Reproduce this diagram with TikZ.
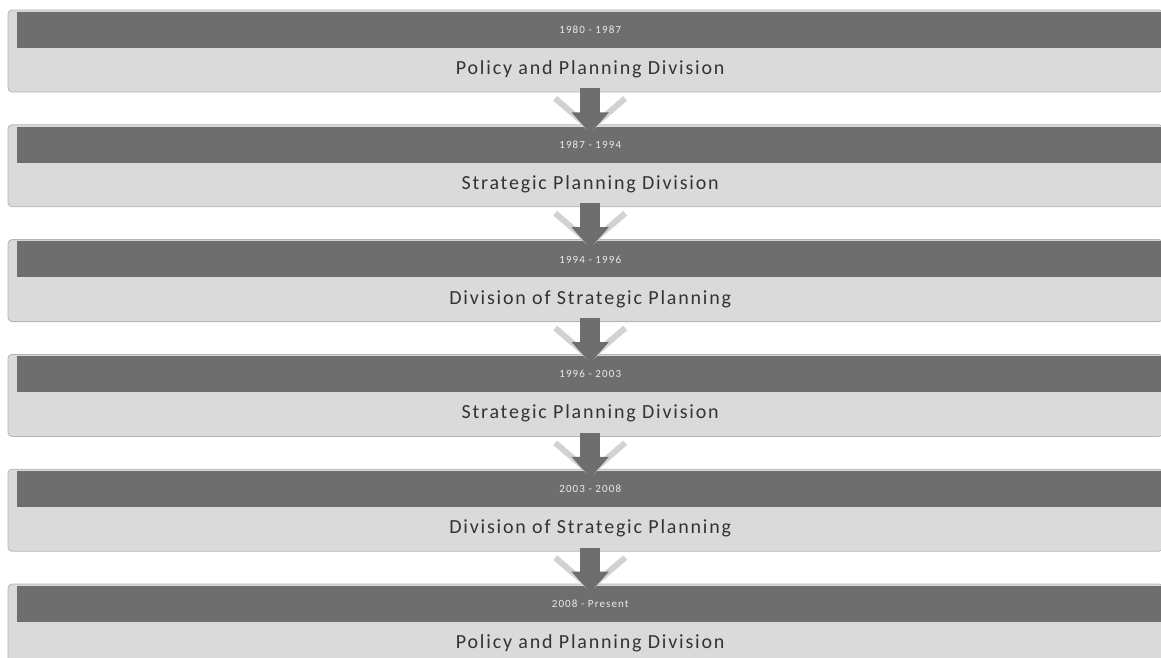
\documentclass[tikz,border=0pt]{standalone}
\usepackage{fontspec}
\setmainfont{Carlito}
\usepackage{xcolor}
\usepackage{tikz}
\usetikzlibrary{positioning, arrows.meta, calc}

\definecolor{barGray}{HTML}{6E6E6E}
\definecolor{panelGray}{HTML}{DADADA}
\definecolor{edgeGray}{HTML}{B4B4B4}
\definecolor{vGray}{HTML}{D2D2D2}
\definecolor{textGray}{HTML}{333333}

\begin{document}
\begin{tikzpicture}[
        x=1pt, y=-1pt,
        % Light background panel of each period
        panel/.style={
            draw=edgeGray,
            fill=panelGray,
            line width=0.8pt,
            rounded corners=4pt,
            minimum width=1155pt,
            minimum height=82pt
        },
        % Dark bar holding the years
        yearbar/.style={
            fill=barGray,
            text=white!92!black,
            minimum width=1146pt,
            minimum height=36pt,
            inner sep=0pt,
            font=\fontsize{11}{12}\selectfont\addfontfeatures{LetterSpace=10}
        },
        % Name of the division
        division/.style={
            text=textGray,
            minimum height=42pt,
            inner sep=0pt,
            font=\fontsize{20}{22}\selectfont\addfontfeatures{LetterSpace=9}
        },
        % Light chevron behind the arrow
        chevron/.style={
            draw=vGray,
            line width=6pt,
            line join=round
        },
        % Dark down arrow between periods
        flow/.style={
            draw=barGray,
            line width=20pt,
            -{Triangle[width=36pt, length=21pt]}
        },
        node distance=32pt % Gap between two panels
    ]

    \useasboundingbox (0,0) rectangle (1161,657);

    % ==========================================
    % PANELS (one per period)
    % ==========================================

    \node[panel] (panel1) at (585.5,51) {};
    \node[panel, below=of panel1] (panel2) {};
    \node[panel, below=of panel2] (panel3) {};
    \node[panel, below=of panel3] (panel4) {};
    \node[panel, below=of panel4] (panel5) {};
    \node[panel, below=of panel5] (panel6) {};

    % ==========================================
    % YEAR BARS AND DIVISION NAMES
    % ==========================================

    \node[yearbar, anchor=north east] (year1) at ([yshift=-2pt]panel1.north east) {1980 - 1987};
    \node[division, below=0pt of year1] (name1) {Policy and Planning Division};

    \node[yearbar, anchor=north east] (year2) at ([yshift=-2pt]panel2.north east) {1987 - 1994};
    \node[division, below=0pt of year2] (name2) {Strategic Planning Division};

    \node[yearbar, anchor=north east] (year3) at ([yshift=-2pt]panel3.north east) {1994 - 1996};
    \node[division, below=0pt of year3] (name3) {Division of Strategic Planning};

    \node[yearbar, anchor=north east] (year4) at ([yshift=-2pt]panel4.north east) {1996 - 2003};
    \node[division, below=0pt of year4] (name4) {Strategic Planning Division};

    \node[yearbar, anchor=north east] (year5) at ([yshift=-2pt]panel5.north east) {2003 - 2008};
    \node[division, below=0pt of year5] (name5) {Division of Strategic Planning};

    \node[yearbar, anchor=north east] (year6) at ([yshift=-2pt]panel6.north east) {2008 - Present};
    \node[division, below=0pt of year6] (name6) {Policy and Planning Division};

    % ==========================================
    % ARROWS BETWEEN PERIODS
    % ==========================================

    % Light chevrons first
    \draw[chevron] ([xshift=-35pt, yshift=-8pt]name1.south) -- ([yshift=-2pt]year2.north) -- ([xshift=35pt, yshift=-8pt]name1.south);
    \draw[chevron] ([xshift=-35pt, yshift=-8pt]name2.south) -- ([yshift=-2pt]year3.north) -- ([xshift=35pt, yshift=-8pt]name2.south);
    \draw[chevron] ([xshift=-35pt, yshift=-8pt]name3.south) -- ([yshift=-2pt]year4.north) -- ([xshift=35pt, yshift=-8pt]name3.south);
    \draw[chevron] ([xshift=-35pt, yshift=-8pt]name4.south) -- ([yshift=-2pt]year5.north) -- ([xshift=35pt, yshift=-8pt]name4.south);
    \draw[chevron] ([xshift=-35pt, yshift=-8pt]name5.south) -- ([yshift=-2pt]year6.north) -- ([xshift=35pt, yshift=-8pt]name5.south);

    % Dark arrows on top
    \draw[flow] ([yshift=2pt]name1.south) -- ([yshift=-7pt]year2.north);
    \draw[flow] ([yshift=2pt]name2.south) -- ([yshift=-7pt]year3.north);
    \draw[flow] ([yshift=2pt]name3.south) -- ([yshift=-7pt]year4.north);
    \draw[flow] ([yshift=2pt]name4.south) -- ([yshift=-7pt]year5.north);
    \draw[flow] ([yshift=2pt]name5.south) -- ([yshift=-7pt]year6.north);

\end{tikzpicture}
\end{document}
